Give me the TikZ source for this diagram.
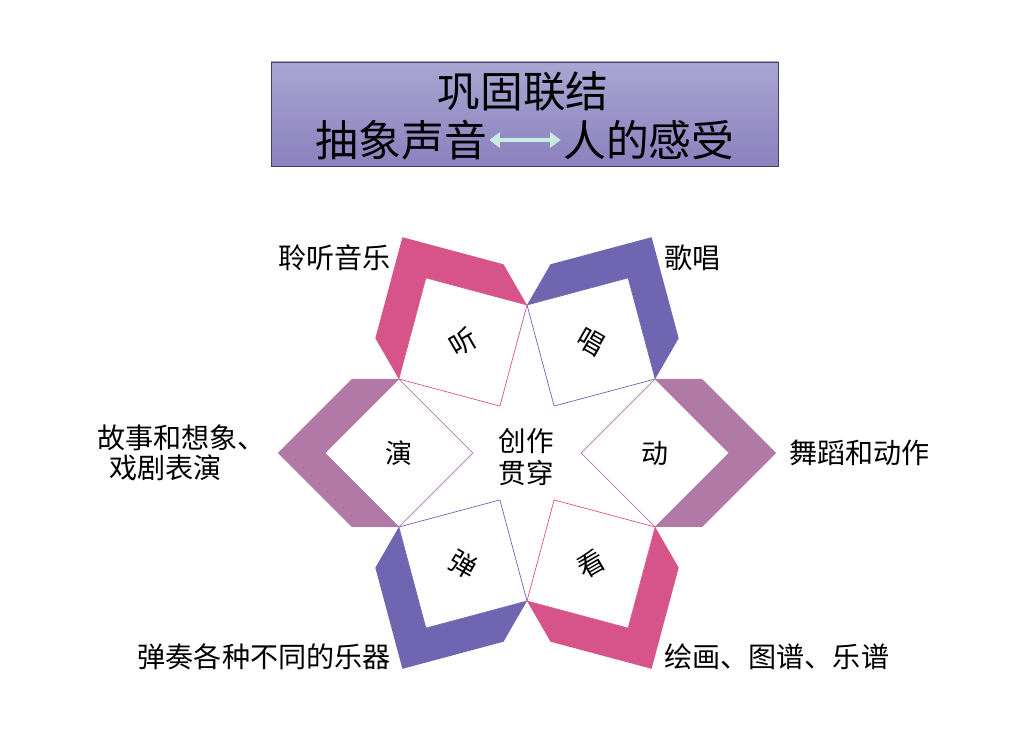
\documentclass[tikz,border=0pt]{standalone}
\usepackage{fontspec}
\setmainfont{Noto Sans CJK SC}
\usetikzlibrary{calc,arrows.meta}

\definecolor{rose}{RGB}{214,84,138}
\definecolor{violet}{RGB}{111,101,176}
\definecolor{mauve}{RGB}{177,121,166}
\definecolor{titletop}{RGB}{170,166,210}
\definecolor{titlebot}{RGB}{139,129,190}
\definecolor{titleedge}{RGB}{70,66,100}
\definecolor{linkcyan}{RGB}{200,236,226}

\tikzstyle{titlebox} = [draw=titleedge, line width=0.6pt, top color=titletop, bottom color=titlebot]
\tikzstyle{headline} = [font=\fontsize{36.5pt}{43pt}\selectfont, inner sep=0pt]
\tikzstyle{caption} = [font=\fontsize{24pt}{25.6pt}\selectfont, inner sep=0pt, align=left]
\tikzstyle{petaltext} = [font=\fontsize{23pt}{26pt}\selectfont, inner sep=0pt]
\tikzstyle{centertext} = [font=\fontsize{23.5pt}{27pt}\selectfont, inner sep=0pt, align=center]
\tikzstyle{linkarrow} = [draw=linkcyan, line width=4pt, shorten <=2pt, shorten >=2pt,
  {Triangle[length=9pt,width=13pt]}-{Triangle[length=9pt,width=13pt]}]

\begin{document}
\begin{tikzpicture}[x=0.03cm, y=0.03cm]
      \useasboundingbox (0,0) rectangle (1034,749);
      %title
      \draw[titlebox] (271,583) rectangle (778,687);
      \node[headline] (topic) at (523,658) {巩固联结};
      \node[headline, anchor=east] (sound) at (487,609) {抽象声音};
      \node[headline, anchor=west] (feeling) at (563,609) {人的感受};
      \draw[linkarrow] (sound) -- (feeling);
      %petals
      \coordinate (hub) at (527,296);
      \foreach \name/\ang/\colr/\rot/\word in {
        yan/180/mauve/0/演,
        ting/120/rose/30/听,
        chang/60/violet/-30/唱,
        dong/0/mauve/0/动,
        kan/-60/rose/30/看,
        tan/-120/violet/-30/弹}
      {
        \fill[\colr] ($(hub)+(\ang-30:148)+(\ang:47)$) -- ($(hub)+(\ang-30:148)$)
          -- ($(hub)+(\ang:202.2)$) -- ($(hub)+(\ang+30:148)$)
          -- ($(hub)+(\ang+30:148)+(\ang:47)$) -- ($(hub)+(\ang:202.2)+(\ang:47)$) -- cycle;
        \draw[\colr, fill=white, line width=0.6pt] ($(hub)+(\ang-30:148)$) -- ($(hub)+(\ang:54.2)$)
          -- ($(hub)+(\ang+30:148)$) -- ($(hub)+(\ang:202.2)$) -- cycle;
        \node[petaltext, rotate=\rot] (\name) at ($(hub)+(\ang:128.2)$) {\word};
      };
      \node[centertext] (core) at (526,292) {创作\\贯穿};
      %labels
      \foreach \name/\x/\y/\side/\word in {
        listen/391/491/east/聆听音乐,
        sing/664/491/west/歌唱,
        story/97/296/west/{故事和想象、\\\hspace*{0.36cm}戏剧表演},
        dance/789/296/west/舞蹈和动作,
        play/391/92/east/弹奏各种不同的乐器,
        paint/664/92/west/绘画、图谱、乐谱}
      {
        \node[caption, anchor=\side] (\name) at (\x,\y) {\word};
      };
\end{tikzpicture}
\end{document}
